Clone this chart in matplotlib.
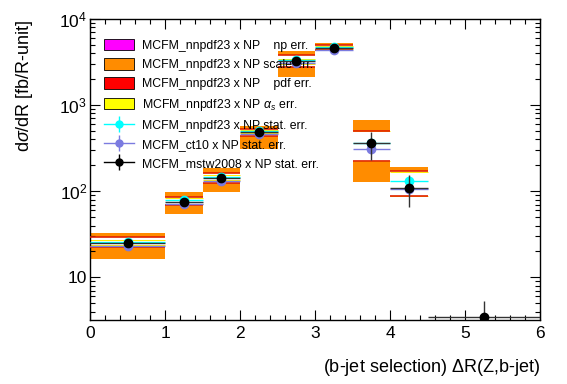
import numpy as np
import matplotlib
matplotlib.use('Agg')
import matplotlib.pyplot as plt
from matplotlib.patches import Patch
from matplotlib.lines import Line2D
from matplotlib.legend_handler import HandlerTuple
from matplotlib.ticker import FixedLocator, FixedFormatter, LogLocator, NullFormatter, MultipleLocator

plt.rcParams['font.family'] = ['Liberation Sans', 'DejaVu Sans']
plt.rcParams['mathtext.fontset'] = 'custom'
plt.rcParams['mathtext.rm'] = 'Liberation Sans'
plt.rcParams['mathtext.it'] = 'Liberation Sans:italic'

# bin edges in dR(Z,b-jet)
edges = [0, 1, 1.5, 2, 2.5, 3, 3.5, 4, 4.5, 6]

# predictions (central + stat. err.)
mstw = [24.8, 76, 142, 490, 3270, 4600, 359, 110, 3.5]
mstw_err = [1.0, 2.5, 5, 15, 90, 110, 130, 45, 1.8]
nnpdf = [25.8, 79, 147, 505, 3350, 4720, 359, 132, np.nan]
nnpdf_err = [0.8, 2.0, 4, 12, 70, 90, 60, 18, np.nan]
ct10 = [23.4, 71, 133, 465, 3080, 4380, 308, 106, np.nan]
ct10_err = [0.8, 2.0, 4, 12, 70, 90, 40, 15, np.nan]

# uncertainty bands of MCFM_nnpdf23 x NP (first 8 bins)
scale_lo = [16.2, 54, 97, 308, 2120, 4210, 128, 87]
scale_hi = [32.5, 98, 185, 570, 4250, 5250, 675, 189]
pdf_lo = [22.3, 69, 125, 440, 2750, 4350, 225, 88]
pdf_hi = [29.2, 86, 165, 530, 3800, 4950, 502, 170]
as_lo = [23.5, 72, 136, 470, 3000, 4450, 225, 88]
as_hi = [27.3, 83, 156, 518, 3450, 4800, 502, 166]

orange = '#ff8c00'
cyan = '#00ffff'
lblue = '#7b7be0'

edges = np.array(edges)
centers = 0.5 * (edges[1:] + edges[:-1])
halfw = 0.5 * (edges[1:] - edges[:-1])
left = edges[:-1][:8]
width = np.diff(edges)[:8]

fig = plt.figure(figsize=(5.67, 3.84), dpi=100)
ax = fig.add_axes([90/567, 64/384, 450/567, 301/384])

ax.bar(left, np.array(scale_hi) - np.array(scale_lo), bottom=scale_lo, width=width,
       align='edge', color=orange, linewidth=0, zorder=1)
ax.bar(left, np.array(pdf_hi) - np.array(pdf_lo), bottom=pdf_lo, width=width,
       align='edge', color='white', linewidth=0, zorder=2)
ax.hlines(as_lo, left, left + width, color='#ffee00', lw=0.7, zorder=2.5)
ax.hlines(as_hi, left, left + width, color='#ffee00', lw=0.7, zorder=2.5)
ax.hlines(pdf_lo, left, left + width, color='#e02000', lw=1.2, zorder=3)
ax.hlines(pdf_hi, left, left + width, color='#e02000', lw=1.2, zorder=3)

ax.errorbar(centers, nnpdf, xerr=halfw, yerr=nnpdf_err, fmt='o', color=cyan,
            ms=6, lw=1, capsize=0, zorder=4)
ax.errorbar(centers, ct10, xerr=halfw, yerr=ct10_err, fmt='o', color=lblue,
            ms=6, lw=1, capsize=0, zorder=5)
ax.errorbar(centers, mstw, xerr=halfw, yerr=mstw_err, fmt='o', color='black',
            ecolor='#333333', ms=6, lw=1, capsize=0, zorder=6)

ax.set_yscale('log')
ax.set_xlim(0, 6)
ax.set_ylim(3.2, 1e4)

ax.yaxis.set_major_locator(FixedLocator([10, 100, 1000, 10000]))
ax.yaxis.set_major_formatter(FixedFormatter(['10', '$10^2$', '$10^3$', '$10^4$']))
ax.yaxis.set_minor_locator(LogLocator(base=10, subs=np.arange(2, 10)))
ax.yaxis.set_minor_formatter(NullFormatter())
ax.xaxis.set_major_locator(MultipleLocator(1))
ax.xaxis.set_minor_locator(MultipleLocator(0.2))
ax.tick_params(which='both', direction='in', top=True, right=True, labelsize=12.5)
ax.tick_params(which='major', length=7, width=0.8)
ax.tick_params(axis='y', which='major', pad=2)
ax.tick_params(axis='x', which='major', pad=4)
ax.tick_params(which='minor', length=3.5, width=0.8)
for s in ax.spines.values():
    s.set_linewidth(1.0)

ax.set_xlabel('(b-jet selection) $\\Delta$R(Z,b-jet)', fontsize=13, loc='right')
ax.xaxis.set_label_coords(1.0, -0.123)
ax.set_ylabel('d$\\sigma$/dR [fb/R-unit]', fontsize=13, loc='top')
ax.yaxis.set_label_coords(-0.122, 1.0)


def stat_handle(c):
    return (Line2D([], [], color=c, lw=1, marker='o', ms=5),
            Line2D([], [], color=c, lw=0, marker='|', ms=11, mew=1))


handles = [Patch(facecolor='#ff00ff', edgecolor='black', lw=0.6),
           Patch(facecolor=orange, edgecolor='black', lw=0.6),
           Patch(facecolor='red', edgecolor='black', lw=0.6),
           Patch(facecolor='yellow', edgecolor='black', lw=0.6),
           stat_handle(cyan), stat_handle(lblue), stat_handle('black')]
labels = ['MCFM_nnpdf23 x NP    np err.',
          'MCFM_nnpdf23 x NP scale err.',
          'MCFM_nnpdf23 x NP    pdf err.',
          'MCFM_nnpdf23 x NP $\\alpha_s$ err.',
          'MCFM_nnpdf23 x NP stat. err.',
          'MCFM_ct10 x NP stat. err.',
          'MCFM_mstw2008 x NP stat. err.']
ax.legend(handles, labels, loc='upper left', bbox_to_anchor=(104/567, 1 - 39/384),
          bbox_transform=fig.transFigure, frameon=False, fontsize=8.8,
          handlelength=2.45, handleheight=1.06, handletextpad=0.65,
          labelspacing=0.52, borderpad=0, borderaxespad=0,
          handler_map={tuple: HandlerTuple(ndivide=1, pad=0)})

fig.savefig('out.png', dpi=100)
